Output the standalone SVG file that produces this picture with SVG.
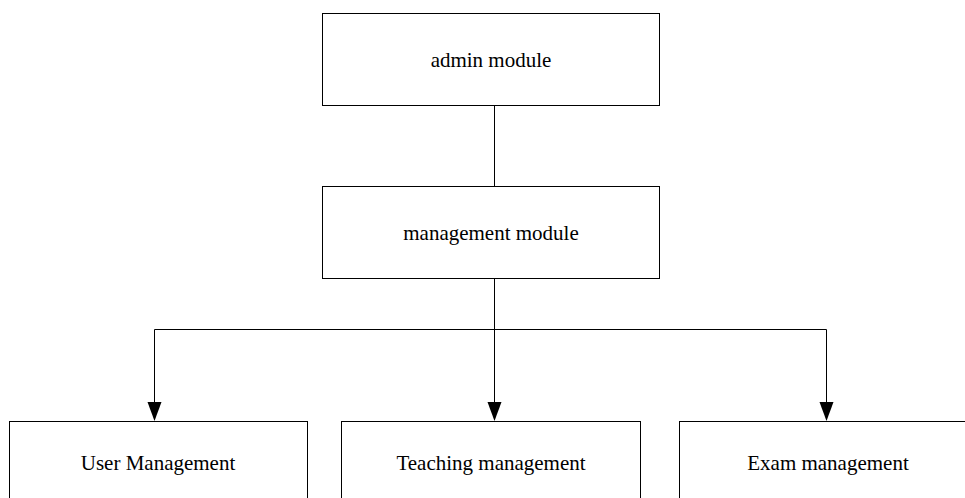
<svg xmlns="http://www.w3.org/2000/svg" width="965" height="498" viewBox="0 0 965 498">
<style>
.box{fill:#fff;stroke:#000;stroke-width:1}
.lbl{font-family:"Liberation Serif","Times New Roman",serif;font-size:21px;fill:#000;text-anchor:middle}
.conn{fill:none;stroke:#000;stroke-width:1}
.head{fill:#000}
</style>
<rect width="965" height="498" fill="#fff"/>
<g id="connectors">
<line class="conn" x1="494.5" y1="105" x2="494.5" y2="186"/>
<line class="conn" x1="494.5" y1="278" x2="494.5" y2="329.5"/>
<line class="conn" x1="154.5" y1="329.5" x2="826.5" y2="329.5"/>
<path class="conn" d="M154.5,329.5 V402"/>
<path class="head" d="M147.5,402 L161.5,402 L154.5,421 Z"/>
<path class="conn" d="M494.5,329.5 V402"/>
<path class="head" d="M487.5,402 L501.5,402 L494.5,421 Z"/>
<path class="conn" d="M826.5,329.5 V402"/>
<path class="head" d="M819.5,402 L833.5,402 L826.5,421 Z"/>
</g>
<g id="admin">
<rect class="box" x="322.5" y="13.5" width="337" height="92"/>
<text class="lbl" x="491" y="67">admin module</text>
</g>
<g id="management">
<rect class="box" x="322.5" y="186.5" width="337" height="92"/>
<text class="lbl" x="491" y="240">management module</text>
</g>
<g id="user">
<rect class="box" x="9.5" y="421.5" width="298" height="92"/>
<text class="lbl" x="158" y="470">User Management</text>
</g>
<g id="teaching">
<rect class="box" x="341.5" y="421.5" width="299" height="92"/>
<text class="lbl" x="491" y="470">Teaching management</text>
</g>
<g id="exam">
<rect class="box" x="679.5" y="421.5" width="298" height="92"/>
<text class="lbl" x="828" y="470">Exam management</text>
</g>
</svg>
